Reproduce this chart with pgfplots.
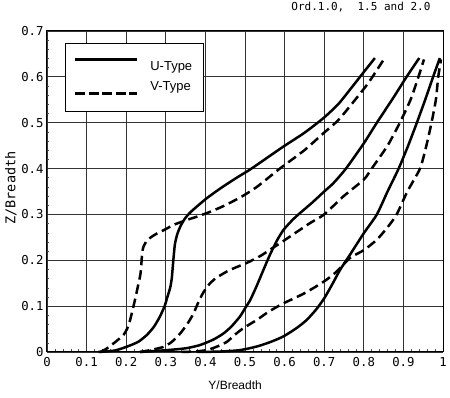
\documentclass[border=0pt]{standalone}
\usepackage{fontspec}
\setmainfont{Liberation Sans}
\setmonofont{DejaVu Sans Mono}
\usepackage{pgfplots}
\pgfplotsset{compat=1.18}
\begin{document}
\begin{tikzpicture}
\begin{axis}[
  scale only axis, width=396pt, height=321pt,
  xmin=0, xmax=1, ymin=0, ymax=0.7,
  /pgf/number format/assume math mode=true,
  xtick={0,0.1,0.2,0.3,0.4,0.5,0.6,0.7,0.8,0.9,1},
  xticklabels={0,0.1,0.2,0.3,0.4,0.5,0.6,0.7,0.8,0.9,1},
  ytick={0,0.1,0.2,0.3,0.4,0.5,0.6,0.7},
  yticklabels={0,0.1,0.2,0.3,0.4,0.5,0.6,0.7},
  minor x tick num=4, minor y tick num=4,
  tick pos=left, tick align=inside,
  major tick length=0pt, minor tick length=2.5pt,
  minor tick style={black!70, line width=0.5pt},
  grid=major, major grid style={black!80, line width=0.7pt},
  axis line style={black, line width=1pt},
  tick label style={font=\ttfamily\fontsize{12.3}{14}\selectfont},
  xticklabel style={yshift=-2pt},
  xlabel={Y/Breadth}, ylabel={Z/Breadth},
  xlabel style={font=\fontsize{12}{14}\selectfont, at={(axis description cs:0.475,0)}, anchor=center, yshift=-33pt},
  ylabel style={font=\ttfamily\fontsize{13.5}{15}\selectfont, at={(axis description cs:-0.091,0.511)}, anchor=center, rotate=0},
  title={Ord.1.0,\ \ 1.5 and 2.0},
  title style={at={(axis description cs:1,1)}, anchor=south east, xshift=-9pt, yshift=9pt, font=\ttfamily\fontsize{11}{13}\selectfont},
  legend cell align=left,
  legend style={at={(axis description cs:0.045,0.963)}, anchor=north west,
    draw=black, line width=1pt, inner xsep=10pt, inner ysep=17pt,
    nodes={inner sep=1pt, text height=9pt, text depth=3pt, font=\fontsize{13}{15}\selectfont},
    row sep=6pt, column sep=12pt},
  clip=false,
]
\addplot[black, line width=2.5pt, smooth, tension=0.4,
  legend image code/.code={\path[draw=none] (0pt,0pt) -- (62pt,0pt); \draw[black,solid,line width=2.5pt,overlay] (0pt,8pt) -- (62pt,8pt);}]
  coordinates {(0.13,0) (0.17,0.003) (0.2,0.011) (0.23,0.022) (0.252,0.037) (0.27,0.055) (0.285,0.077) (0.297,0.1) (0.304,0.12) (0.311,0.14) (0.315,0.16) (0.319,0.2) (0.323,0.235) (0.329,0.257) (0.338,0.276) (0.35,0.293) (0.365,0.307) (0.403,0.335) (0.44,0.358) (0.479,0.38) (0.513,0.398) (0.55,0.42) (0.597,0.448) (0.65,0.478) (0.698,0.51) (0.735,0.54) (0.765,0.572) (0.795,0.605) (0.828,0.641)};
\addlegendentry{U-Type}
\addplot[black, line width=2.5pt, dash pattern=on 9.5pt off 5pt, smooth, tension=0.4,
  legend image code/.code={\path[draw=none] (0pt,0pt) -- (62pt,0pt); \draw[black,line width=2.5pt,dash pattern=on 10pt off 3.5pt,overlay] (0pt,-6pt) -- (62pt,-6pt);}]
  coordinates {(0.134,0) (0.15,0.007) (0.167,0.018) (0.18,0.027) (0.193,0.037) (0.202,0.05) (0.21,0.07) (0.222,0.113) (0.23,0.145) (0.236,0.17) (0.239,0.2) (0.24,0.215) (0.243,0.228) (0.25,0.24) (0.262,0.25) (0.277,0.258) (0.3,0.268) (0.319,0.277) (0.35,0.287) (0.378,0.295) (0.41,0.305) (0.445,0.318) (0.49,0.338) (0.53,0.36) (0.588,0.4) (0.65,0.44) (0.698,0.477) (0.735,0.505) (0.765,0.536) (0.81,0.585) (0.849,0.636)};
\addlegendentry{V-Type}
\addplot[black, line width=2.5pt, smooth, tension=0.4, forget plot]
  coordinates {(0.235,0) (0.302,0.004) (0.35,0.008) (0.386,0.015) (0.42,0.027) (0.445,0.04) (0.465,0.055) (0.487,0.077) (0.5,0.095) (0.513,0.113) (0.53,0.145) (0.547,0.18) (0.563,0.212) (0.58,0.242) (0.597,0.266) (0.62,0.288) (0.639,0.303) (0.67,0.326) (0.7,0.35) (0.723,0.368) (0.755,0.4) (0.8,0.455) (0.833,0.5) (0.875,0.555) (0.908,0.6) (0.94,0.641)};
\addplot[black, line width=2.5pt, dash pattern=on 9.5pt off 5pt, smooth, tension=0.4, forget plot]
  coordinates {(0.235,0) (0.26,0.004) (0.294,0.011) (0.315,0.022) (0.336,0.04) (0.355,0.062) (0.37,0.084) (0.383,0.11) (0.395,0.13) (0.41,0.148) (0.428,0.162) (0.462,0.179) (0.504,0.194) (0.54,0.21) (0.563,0.223) (0.59,0.238) (0.614,0.252) (0.664,0.281) (0.7,0.3) (0.748,0.339) (0.8,0.376) (0.82,0.4) (0.86,0.45) (0.891,0.5) (0.918,0.55) (0.938,0.6) (0.952,0.638)};
\addplot[black, line width=2.5pt, smooth, tension=0.4, forget plot]
  coordinates {(0.38,0) (0.437,0.001) (0.487,0.004) (0.53,0.012) (0.565,0.022) (0.597,0.034) (0.63,0.052) (0.656,0.07) (0.68,0.093) (0.7,0.117) (0.72,0.147) (0.74,0.179) (0.765,0.212) (0.8,0.259) (0.833,0.3) (0.86,0.35) (0.888,0.4) (0.912,0.45) (0.934,0.5) (0.955,0.55) (0.975,0.6) (0.992,0.641)};
\addplot[black, line width=2.5pt, dash pattern=on 9.5pt off 5pt, smooth, tension=0.4, forget plot]
  coordinates {(0.34,0) (0.37,0.001) (0.403,0.004) (0.43,0.012) (0.454,0.022) (0.475,0.038) (0.496,0.052) (0.53,0.07) (0.56,0.088) (0.597,0.106) (0.65,0.128) (0.7,0.154) (0.731,0.175) (0.765,0.205) (0.8,0.222) (0.833,0.245) (0.86,0.272) (0.883,0.3) (0.91,0.35) (0.942,0.4) (0.958,0.45) (0.971,0.5) (0.982,0.55) (0.988,0.6) (0.995,0.638)};
\end{axis}
\pgfresetboundingbox
\path ([shift={(-47pt,-46pt)}]current axis.south west) rectangle ([shift={(7pt,31pt)}]current axis.north east);
\end{tikzpicture}
\end{document}
